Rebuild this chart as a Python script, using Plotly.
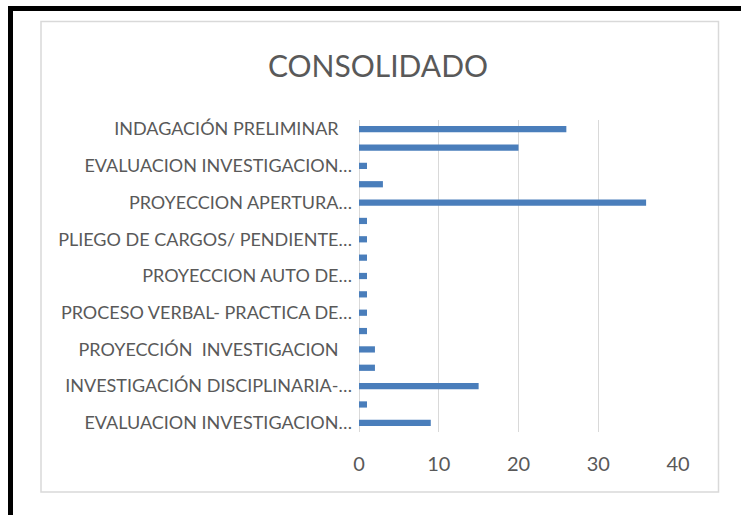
import plotly.graph_objects as go

# Values for the 17 bars, top to bottom
values = [26, 20, 1, 3, 36, 1, 1, 1, 1, 1, 1, 1, 2, 2, 15, 1, 9]
# Labels shown on the axis (every other bar, starting at the first)
PAD = '<span style="color:rgba(0,0,0,0)">--</span>'  # trailing spaces in the original labels
shown_labels = [
    "INDAGACIÓN PRELIMINAR" + PAD,
    "EVALUACION INVESTIGACION…",
    "PROYECCION APERTURA…",
    "PLIEGO DE CARGOS/ PENDIENTE…",
    "PROYECCION AUTO DE…",
    "PROCESO VERBAL- PRACTICA DE…",
    "PROYECCIÓN\u00a0 INVESTIGACION" + PAD,
    "INVESTIGACIÓN DISCIPLINARIA-…",
    "EVALUACION INVESTIGACION…",
]
x_ticks = [0, 10, 20, 30, 40]
title_text = "CONSOLIDADO"

positions = list(range(len(values)))
label_positions = positions[::2]

W, H = 741, 515
L, R, T, B = 359, 678, 120, 432
pw, ph = R - L, B - T

def px(xp):
    return (xp - L) / pw

def py(yp):
    return (B - yp) / ph

fig = go.Figure(
    go.Bar(
        x=values,
        y=positions,
        orientation="h",
        marker=dict(color="#4a7ebb", line=dict(width=0)),
        hoverinfo="x",
    )
)

font_family = "Lato, 'Open Sans', sans-serif"

fig.update_layout(
    width=W,
    height=H,
    margin=dict(l=L, r=W - R, t=T, b=H - B, pad=0),
    paper_bgcolor="white",
    plot_bgcolor="white",
    bargap=0.66,
    showlegend=False,
    title=dict(
        text=title_text,
        x=378 / W,
        xref="container",
        xanchor="center",
        y=1 - 66 / H,
        yref="container",
        yanchor="middle",
        font=dict(family=font_family, size=30, color="#595959"),
    ),
    xaxis=dict(
        range=[0, 40],
        tickvals=x_ticks,
        showgrid=True,
        gridcolor="#d9d9d9",
        gridwidth=1,
        zeroline=True,
        zerolinecolor="#d9d9d9",
        zerolinewidth=1,
        showline=False,
        ticks="",
        ticklabelstandoff=18,
        tickfont=dict(family=font_family, size=20, color="#595959"),
        fixedrange=True,
    ),
    yaxis=dict(
        range=[len(values) - 0.5, -0.5],
        tickvals=label_positions,
        ticktext=shown_labels,
        showgrid=False,
        zeroline=False,
        showline=False,
        ticks="",
        ticklabelstandoff=6,
        tickfont=dict(family=font_family, size=18, color="#595959"),
        fixedrange=True,
    ),
    shapes=[
        # light gray chart-area border
        dict(type="rect", xref="paper", yref="paper",
             x0=px(41), x1=px(718.5), y0=py(492), y1=py(21.5),
             line=dict(color="#d9d9d9", width=1.5), fillcolor="rgba(0,0,0,0)", layer="below"),
        # black frame (left and top)
        dict(type="line", xref="paper", yref="paper",
             x0=px(10.5), x1=px(10.5), y0=py(520), y1=py(6),
             line=dict(color="black", width=5)),
        dict(type="line", xref="paper", yref="paper",
             x0=px(8), x1=px(745), y0=py(8.5), y1=py(8.5),
             line=dict(color="black", width=5)),
    ],
)

fig.write_html(
    "out.html",
    config={"displayModeBar": False},
    post_script="document.body.style.margin='0';document.body.style.overflow='hidden';",
)
